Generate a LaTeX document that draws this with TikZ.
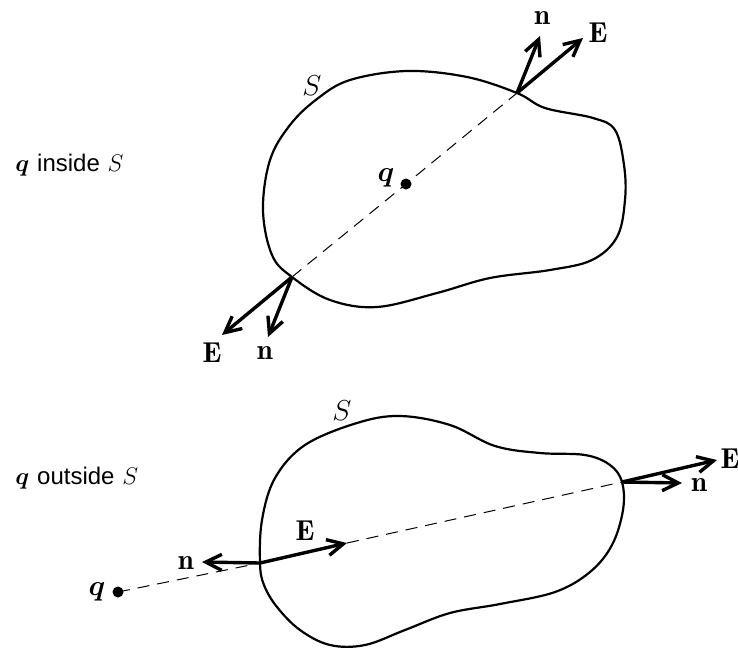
\documentclass[tikz,border=0pt]{standalone}
\usepackage{amsmath}
\usepackage{fontspec}
\setsansfont{Liberation Sans}
\usetikzlibrary{arrows.meta}

\begin{document}
\begin{tikzpicture}[x=0.5pt, y=-0.5pt, thick, font=\large]

    \tikzset{surface/.style={line width=1.1pt}};
    \tikzset{field/.style={line width=1.7pt, -{Straight Barb[length=8pt,width=8pt]}}};
    \tikzset{ray/.style={line width=0.5pt, dash pattern=on 6pt off 4pt}};
    \tikzset{charge/.style={circle, fill, inner sep=0pt, minimum size=5.5pt}};
    \tikzset{vlabel/.style={font=\Large}};

    \useasboundingbox (0,0) rectangle (738,649);

    %%%%%%%%%%%%%%%
    %  q inside   %
    %%%%%%%%%%%%%%%
    \path (8,165) node [anchor=west] (capin) {$\boldsymbol{q}$ \textsf{inside} $S$};
    \path (312,86) node [vlabel] (sin) {$S$};
    \path (406,184) node [charge] (qin) {};
    \path (qin) ++(-20,-6) node [vlabel] (qinlbl) {$\boldsymbol{q}$};
    \path (292,277) coordinate (pa);
    \path (517,93) coordinate (pb);
    \path (583,38) coordinate (ea);
    \path (540,36) coordinate (na);
    \path (222,335) coordinate (eb);
    \path (268,337) coordinate (nb);
    \path (598,33) node [vlabel] (ealbl) {$\mathbf{E}$};
    \path (542,18) node [vlabel] (nalbl) {$\mathbf{n}$};
    \path (212,353) node [vlabel] (eblbl) {$\mathbf{E}$};
    \path (265,353) node [vlabel] (nblbl) {$\mathbf{n}$};

    \draw [surface] plot [smooth cycle, tension=0.6] coordinates {
      (263,210) (270,160) (290,125) (317,99) (350,80) (407,71) (467,77)
      (517,93) (545,108) (593,118) (615,130) (624,165) (625,200) (617,237)
      (592,260) (550,270) (490,278) (437,293) (377,307) (330,300) (292,277)
      (272,255)};

    \draw [ray] (pa) -- (qin.center) -- (pb);
    \draw [field] (pb) -- (ea);
    \draw [field] (pb) -- (na);
    \draw [field] (pa) -- (eb);
    \draw [field] (pa) -- (nb);

    %%%%%%%%%%%%%%%
    %  q outside  %
    %%%%%%%%%%%%%%%
    \path (8,478) node [anchor=west] (capout) {$\boldsymbol{q}$ \textsf{outside} $S$};
    \path (342,411) node [vlabel] (sout) {$S$};
    \path (118,592) node [charge] (qout) {};
    \path (qout) ++(-21,0) node [vlabel] (qoutlbl) {$\boldsymbol{q}$};
    \path (260,563) coordinate (pc);
    \path (622,482) coordinate (pd);
    \path (347,543) coordinate (ec);
    \path (202,562) coordinate (nc);
    \path (717,460) coordinate (ed);
    \path (682,483) coordinate (nd);
    \path (305,531) node [vlabel] (eclbl) {$\mathbf{E}$};
    \path (186,563) node [vlabel] (nclbl) {$\mathbf{n}$};
    \path (730,459) node [vlabel] (edlbl) {$\mathbf{E}$};
    \path (699,485) node [vlabel] (ndlbl) {$\mathbf{n}$};

    \draw [surface] plot [smooth cycle, tension=0.6] coordinates {
      (357,423) (400,416) (450,425) (495,446) (540,453) (585,455) (610,465)
      (622,482) (623,510) (612,545) (590,572) (555,592) (500,604) (450,613)
      (405,630) (365,645) (330,645) (300,630) (277,607) (264,585) (260,563)
      (262,520) (275,478) (305,445)};

    \draw [ray] (qout.center) -- (pc);
    \draw [ray] (ec) -- (pd);
    \draw [field] (pc) -- (ec);
    \draw [field] (pc) -- (nc);
    \draw [field] (pd) -- (ed);
    \draw [field] (pd) -- (nd);

  \end{tikzpicture}
\end{document}
